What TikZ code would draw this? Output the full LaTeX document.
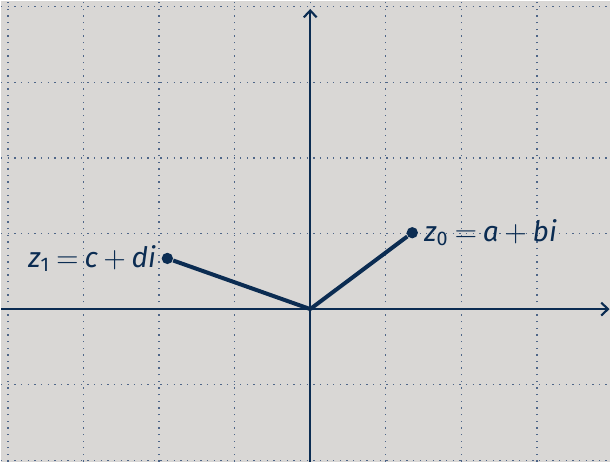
\documentclass[tikz,border=0pt]{standalone}
\usepackage{fontspec}
\setmainfont{Fira Sans}
\usepackage{tikz}
\usetikzlibrary{arrows.meta,positioning}
\definecolor{cpNavy}{HTML}{0B2C52}
\definecolor{cpPaper}{HTML}{D9D7D5}
\definecolor{cpGrid}{HTML}{4F6688}
\newcommand{\opsp}{\hspace{0.2em}}
\tikzset{
  >={Straight Barb[length=0.9mm,width=1.7mm]},
  axis/.style={->, draw=cpNavy, line width=0.8pt},
  gridline/.style={draw=cpGrid, line width=0.5pt, dotted},
  vec/.style={draw=cpNavy, line width=1.5pt},
  pt/.style={circle, fill=cpNavy, inner sep=0pt, minimum size=1.5mm},
  lbl/.style={text=cpNavy, inner sep=2pt, font=\fontsize{10.6}{12.5}\selectfont},
}

\begin{document}
\begin{tikzpicture}
  \fill[cpPaper] (-4.09,-2.02) rectangle (3.97,4.08);
  \draw[gridline] (-4.09,-2.02) grid (3.97,4.08);

  \coordinate (O) at (0,0);
  \coordinate (xl) at (-4.09,0);
  \coordinate (xr) at (3.96,0);
  \coordinate (yb) at (0,-2.02);
  \coordinate (yt) at (0,3.97);
  \draw[axis] (xl) -- (xr);
  \draw[axis] (yb) -- (yt);

  \node[pt] (z0) at (1.35,1.01) {};
  \node[pt] (z1) at (-1.89,0.67) {};
  \draw[vec] (O) -- (z0);
  \draw[vec] (O) -- (z1);

  \node[lbl, right=0mm of z0] (z0lbl) {\textit{z}\textsubscript{0}\opsp$=$\opsp\textit{a}\opsp$+$\opsp\textit{bi}};
  \node[lbl, left=-0.1mm of z1] (z1lbl) {\textit{z}\textsubscript{1}\opsp$=$\opsp\textit{c}\opsp$+$\opsp\textit{di}};
\end{tikzpicture}
\end{document}
